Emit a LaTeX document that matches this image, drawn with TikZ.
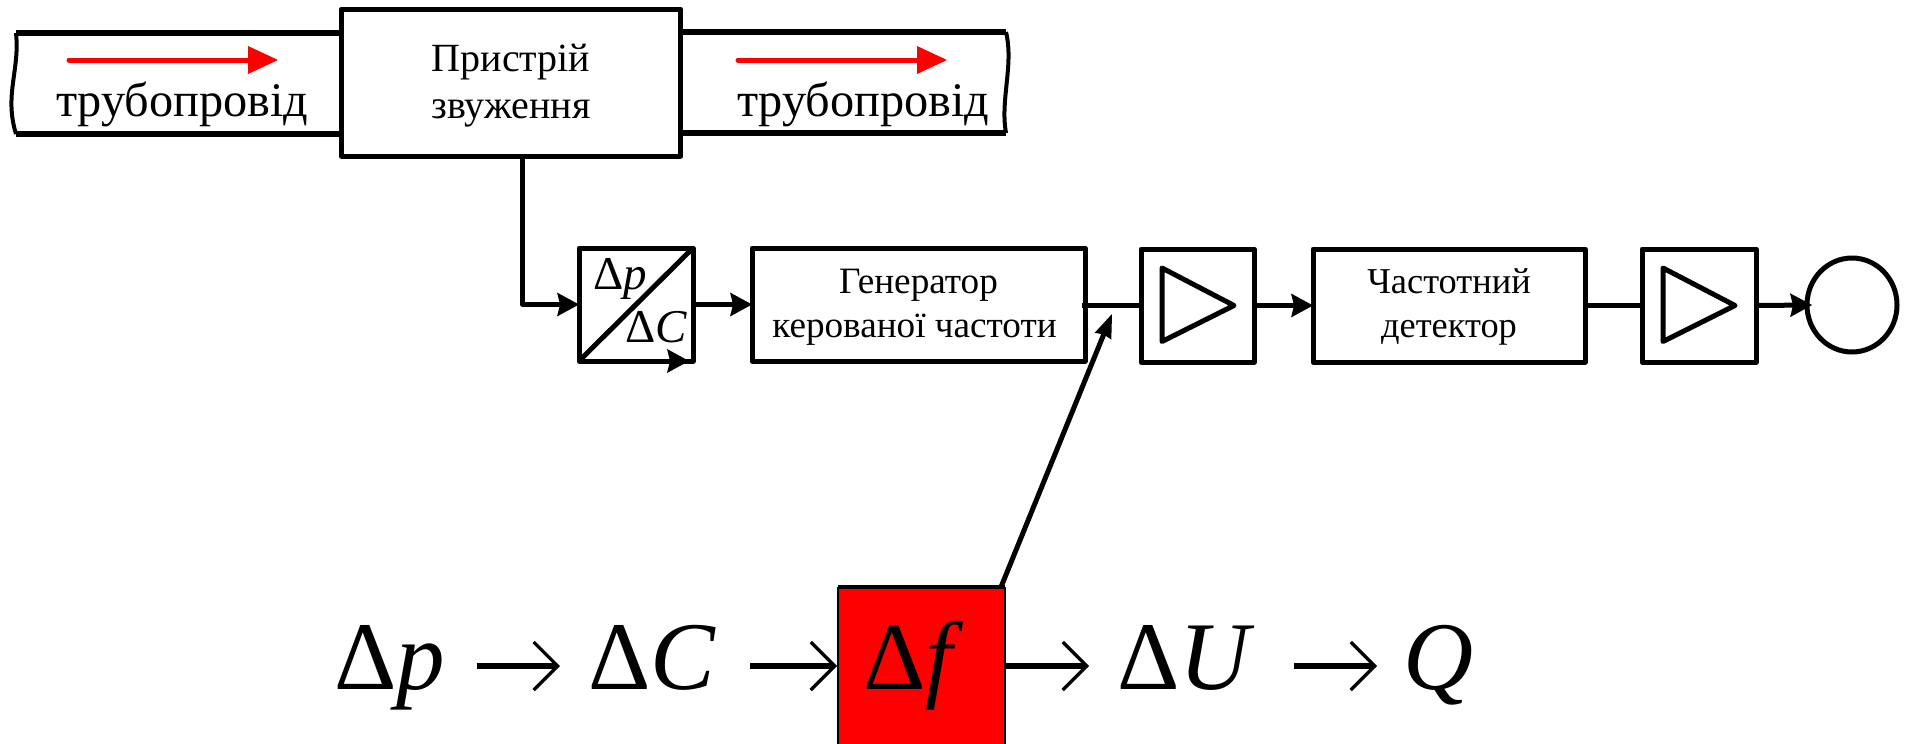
\documentclass[tikz,border=0pt]{standalone}
\usepackage{fontspec}
\setmainfont{Liberation Serif}
\usetikzlibrary{arrows.meta,shapes.geometric}
\definecolor{pipered}{RGB}{255,0,0}
\tikzset{
  x=1pt,y=-1pt,
  block/.style={draw=black,line width=5pt,fill=white,inner sep=0pt,outer sep=0pt,line join=round,align=center},
  bigtext/.style={font=\fontsize{40}{47}\selectfont},
  gentext/.style={font=\fontsize{37.2}{43.5}\selectfont},
  dettext/.style={font=\fontsize{36.4}{43.5}\selectfont},
  pipetext/.style={font=\fontsize{48.3}{48}\selectfont,inner sep=0pt,outer sep=0pt,anchor=base west},
  conv/.style={font=\fontsize{47}{47}\selectfont,inner sep=0pt,outer sep=0pt,anchor=base west},
  formula/.style={font=\fontsize{97}{97}\selectfont,inner sep=0pt,outer sep=0pt,anchor=base west},
  wire/.style={line width=5pt,line join=round},
  flow/.style={wire,-{Stealth[length=22pt,width=24pt,inset=3pt,line width=0pt]}},
  redflow/.style={draw=pipered,line width=5pt,line cap=round,-{Stealth[length=30pt,width=28pt,inset=0pt,line width=0pt]}},
  mathar/.style={line width=6pt,-{Straight Barb[length=24pt,width=48pt,line width=3.2pt]}},
  pipeline/.style={line width=5.5pt},
  pipeend/.style={line width=4pt},
}
\begin{document}
\begin{tikzpicture}
\useasboundingbox (0,0) rectangle (1907,744);
% pipes
\coordinate (ltl) at (16,33); \coordinate (lbl) at (16,134);
\coordinate (rtr) at (1006,32); \coordinate (rbr) at (1006,133);
\node[block,bigtext,minimum width=339.5pt,minimum height=147pt] (dev) at (511,82.5) {\rule{0pt}{33pt}Пристрій\\звуження};
\draw[pipeline] (ltl) -- (ltl -| dev.west);
\draw[pipeline] (lbl) -- (lbl -| dev.west);
\draw[pipeline] (rtr) -- (rtr -| dev.east);
\draw[pipeline] (rbr) -- (rbr -| dev.east);
\draw[pipeend] (ltl) .. controls (20,70) and (4,95) .. (lbl);
\draw[pipeend] (rtr) .. controls (1014,65) and (1000,100) .. (rbr);
\coordinate (la) at (69,60); \coordinate (lb) at (278,60);
\coordinate (ra) at (738,60); \coordinate (rb) at (947,60);
\draw[redflow] (la) -- (lb);
\draw[redflow] (ra) -- (rb);
\node[pipetext] (pl) at (56,116) {трубопровід};
\node[pipetext] (pr) at (737,116) {трубопровід};
% chain
\node[block,minimum width=114pt,minimum height=113pt] (cv) at (636,304.5) {};
\node[block,gentext,minimum width=333pt,minimum height=113pt] (gen) at (918.5,304.5) {\rule{0pt}{30pt}Генератор\\керованої частоти\rule{8pt}{0pt}};
\node[block,minimum width=113pt,minimum height=113pt] (amp) at (1197.5,305.5) {};
\node[block,dettext,minimum width=272pt,minimum height=113pt] (det) at (1449,305.5) {\rule{0pt}{28pt}Частотний\\детектор};
\node[block,minimum width=114pt,minimum height=113pt] (ampb) at (1699,305.5) {};
\node[draw=black,line width=5pt,fill=white,ellipse,inner sep=0pt,outer sep=0pt,minimum width=90pt,minimum height=94pt] (out) at (1852,305) {};
\draw[wire] (cv.north east) -- (cv.south west);
\node[conv] (cp) at (593,289) {Δ\textit{p}};
\node[conv] (cc) at (625,342) {Δ\textit{C}};
\draw[flow] (cv.south west) -- ([xshift=-4pt]cv.south east);
\draw[flow] ([xshift=11.5pt]dev.south) |- (cv.west);
\draw[flow] (cv.east) -- (gen.west |- cv.east);
\draw[wire] ([xshift=-3pt]gen.east |- amp.west) -- (amp.west);
\draw[flow] (amp.east) -- (det.west);
\draw[wire] (det.east) -- (ampb.west);
\draw[flow] (ampb.east) -- ([xshift=5pt]out.west);
\draw[wire] ([shift={(-35.5,-37.5)}]amp.center) -- ([shift={(36.5,0)}]amp.center) -- ([shift={(-35.5,36)}]amp.center) -- cycle;
\draw[wire] ([shift={(-36,-37.5)}]ampb.center) -- ([shift={(36,0)}]ampb.center) -- ([shift={(-36,36)}]ampb.center) -- cycle;
% formula
\node[fill=pipered,inner sep=0pt,outer sep=0pt,minimum width=167pt,minimum height=157pt] (rbox) at (921.5,665.5) {};
\draw[line width=1.5pt] (rbox.south west) -- (rbox.north west);
\draw[line width=1.5pt] (rbox.south east) -- (rbox.north east);
\draw[line width=4pt] (rbox.north west) -- (rbox.north east);
\coordinate (tip) at (1112,314);
\coordinate (fline) at (0,666);
\draw[wire,-{Stealth[length=24pt,width=18pt,inset=2pt,line width=0pt]}] ([xshift=-4pt]rbox.north east) -- (tip);
\node[formula] (fp) at (334,689) {Δ\textit{p}};
\node[formula] (fc) at (588,689) {Δ\textit{C}};
\node[formula] (ff) at (863,689) {Δ\textit{f}};
\node[formula] (fu) at (1117,689) {Δ\textit{U}};
\node[formula] (fq) at (1403,689) {\textit{Q}};
\draw[mathar] ([shift={(32,-23)}]fp.base east) -- ([shift={(-28,-23)}]fc.base west);
\draw[mathar] ([shift={(34,-23)}]fc.base east) -- ([shift={(-26,-23)}]ff.base west);
\draw[mathar] (rbox.east |- fline) -- ([shift={(-28,-23)}]fu.base west);
\draw[mathar] ([shift={(39,-23)}]fu.base east) -- ([shift={(-26,-23)}]fq.base west);
\end{tikzpicture}
\end{document}
